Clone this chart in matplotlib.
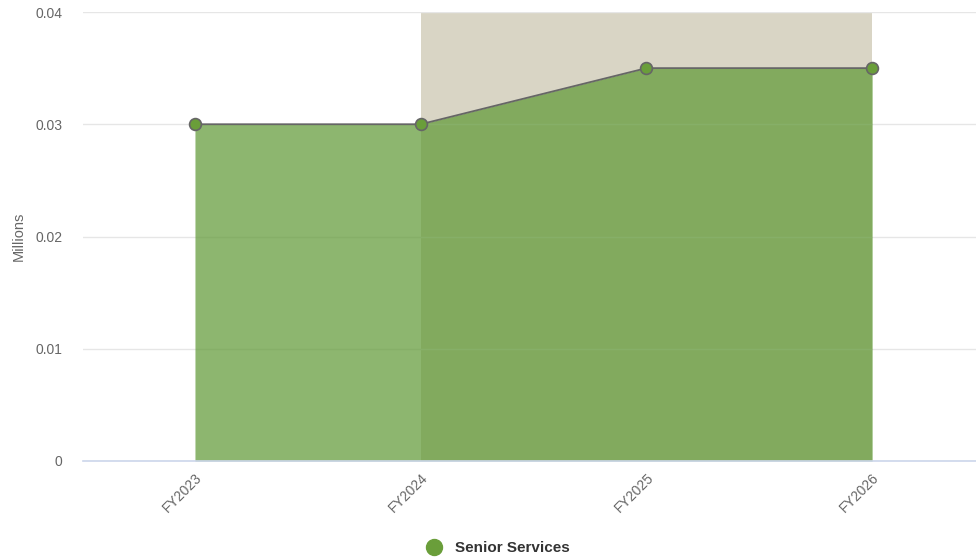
import matplotlib.pyplot as plt
import matplotlib.transforms as mtransforms
from matplotlib.lines import Line2D

# chart data
categories = ['FY2023', 'FY2024', 'FY2025', 'FY2026']
values = [0.03, 0.03, 0.035, 0.035]
series_name = 'Senior Services'
band_start, band_end = 1, 3  # shaded projection band (category index)
y_ticks = [0, 0.01, 0.02, 0.03, 0.04]
y_tick_labels = ['0', '0.01', '0.02', '0.03', '0.04']

plt.rcParams['font.family'] = ['Liberation Sans', 'DejaVu Sans']

fig = plt.figure(figsize=(9.76, 5.6), dpi=100)
ax = fig.add_axes([83 / 976, (560 - 461) / 560, (976 - 83) / 976, (461 - 12) / 560])

x = list(range(len(categories)))

# plot band behind the series
ax.axvspan(band_start, band_end, color='#d9d5c5', zorder=0, lw=0)

# area fill + line + markers
ax.fill_between(x, values, 0, color='#619a37', alpha=0.72, lw=0, zorder=2)
ax.plot(x, values, color='#666666', lw=1.3, zorder=3)
ax.plot(x, values, 'o', ms=8.5, mfc='#6a9e3a', mec='#666666', mew=1.2, zorder=4)

ax.set_xlim(-0.496, 3.46)
ax.set_ylim(0, 0.04)

ax.set_yticks(y_ticks)
ax.set_yticklabels(y_tick_labels)
ax.set_xticks(x)
ax.set_xticklabels(categories, rotation=45, ha='right', va='top', rotation_mode='anchor')

# nudge the rotated category labels a little to the left
shift = mtransforms.ScaledTranslation(-4 / 100, 0, fig.dpi_scale_trans)
for lbl in ax.get_xticklabels():
    lbl.set_transform(lbl.get_transform() + shift)

ax.grid(axis='y', color='#e6e6e6', lw=1, zorder=1)
ax.set_axisbelow(True)
for s in ['top', 'right', 'left']:
    ax.spines[s].set_visible(False)
ax.spines['bottom'].set_color('#ccd6eb')
ax.spines['bottom'].set_linewidth(1.2)
ax.spines['bottom'].set_zorder(5)

ax.tick_params(axis='y', length=0, pad=15, labelsize=10, labelcolor='#666666')
ax.tick_params(axis='x', length=0, pad=7, labelsize=10, labelcolor='#666666')
ax.set_ylabel('Millions', fontsize=10.5, color='#666666', labelpad=7)

handle = Line2D([], [], marker='o', ls='none', ms=11.5, mfc='#6a9e3a', mec='#6a9e3a')
fig.legend([handle], [series_name], loc='center', bbox_to_anchor=(494 / 976, 1 - 548 / 560),
           frameon=False, prop={'weight': 'bold', 'size': 11}, labelcolor='#333333',
           handletextpad=0.4)

fig.savefig('out.png', dpi=100)
